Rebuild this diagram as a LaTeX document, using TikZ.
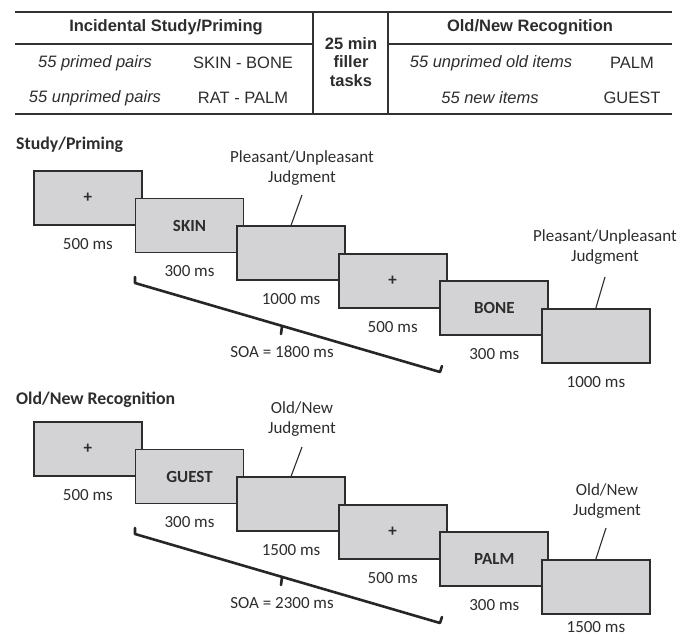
\documentclass[tikz,border=0pt]{standalone}
\usepackage{fontspec}
\setmainfont{Carlito}
\newfontfamily\arialf{Liberation Sans}
\usetikzlibrary{calc}
\definecolor{txt}{RGB}{45,45,45}
\definecolor{bord}{RGB}{45,45,45}
\definecolor{boxfill}{RGB}{211,211,213}
\definecolor{rule}{RGB}{50,50,50}
\begin{document}
\begin{tikzpicture}[x=1pt,y=-1pt,
  tbl/.style={font=\arialf\fontsize{16.5}{19}\selectfont, text=txt, inner sep=0pt},
  tbli/.style={font=\arialf\itshape\fontsize{16.5}{19}\selectfont, text=txt, inner sep=0pt},
  tblh/.style={font=\arialf\bfseries\fontsize{16.5}{19}\selectfont, text=txt, inner sep=0pt},
  thinrule/.style={draw=rule, line width=1.6pt},
  thickrule/.style={draw=rule, line width=2.6pt},
  sechead/.style={font=\bfseries\fontsize{17.8}{21}\selectfont, text=txt, inner sep=0pt, anchor=west},
  stim/.style={draw=bord, fill=boxfill, line width=1.8pt, minimum width=108pt, minimum height=54pt, anchor=north west, inner sep=0pt, font=\bfseries\fontsize{17}{20}\selectfont, text=txt},
  dur/.style={font=\fontsize{17}{20}\selectfont, text=txt, inner sep=0pt},
  judg/.style={align=center, font=\fontsize{17}{20}\selectfont, text=txt, inner sep=0pt},
  pointer/.style={draw=bord, line width=1.1pt},
  soabrace/.style={draw=black!85, line width=2.6pt, line join=round, line cap=round}
]
\useasboundingbox (0,0) rectangle (686,635);

% ---------------- table ----------------
\draw[thinrule] (15,12) -- (672,12);
\draw[thinrule] (15,114) -- (672,114);
\draw[thickrule] (15,44) -- (313,44);
\draw[thickrule] (388,44) -- (672,44);
\draw[thickrule] (313,12) -- (313,114);
\draw[thickrule] (388,12) -- (388,114);

\node[tblh] (h1) at (166,27) {Incidental Study/Priming};
\node[tblh] (h2) at (530,27) {Old/New Recognition};
\node[tblh, align=center] (fill) at (351,62) {25 min\\[-0.5pt]filler\\[-0.5pt]tasks};
\node[tbli] (r1a) at (95,63) {55 primed pairs};
\node[tbl]  (r1b) at (243,63) {SKIN - BONE};
\node[tbli] (r2a) at (95,98) {55 unprimed pairs};
\node[tbl]  (r2b) at (243,98) {RAT - PALM};
\node[tbli] (r1c) at (491,63) {55 unprimed old items};
\node[tbl]  (r1d) at (632,63) {PALM};
\node[tbli] (r2c) at (490,98) {55 new items};
\node[tbl]  (r2d) at (632,98) {GUEST};

% ---------------- Study/Priming ----------------
\node[sechead] (sp) at (16,145) {Study/Priming};

\node[stim] (a1) at (33,170) {+};
\node[stim] (a2) at (134.6,197.6) {SKIN};
\node[stim] (a3) at (236.2,225.2) {};
\node[stim] (a4) at (337.8,252.8) {+};
\node[stim] (a5) at (439.4,280.4) {BONE};
\node[stim] (a6) at (541,308) {};

\node[dur] (ad1) at ($(a1.south)+(0,18)$) {500 ms};
\node[dur] (ad2) at ($(a2.south)+(0,18)$) {300 ms};
\node[dur] (ad3) at ($(a3.south)+(0,18)$) {1000 ms};
\node[dur] (ad4) at ($(a4.south)+(0,18)$) {500 ms};
\node[dur] (ad5) at ($(a5.south)+(0,18)$) {300 ms};
\node[dur] (ad6) at ($(a6.south)+(0,18)$) {1000 ms};

\node[judg] (aj1) at (302,168) {Pleasant/Unpleasant\\Judgment};
\coordinate (aj1p) at (302,195);
\draw[pointer] (aj1p) -- (a3.north);
\node[judg] (aj2) at (605,247.5) {Pleasant/Unpleasant\\Judgment};
\coordinate (aj2p) at (605,277);
\draw[pointer] (aj2p) -- (a6.north);

\coordinate (as1) at (135,277);
\coordinate (as2) at (135,283);
\coordinate (as3) at (440,372);
\coordinate (as4) at (442,366);
\coordinate (asm1) at (282,326);
\coordinate (asm2) at (281,334);
\draw[soabrace] (as1) -- (as2) -- (as3) -- (as4);
\draw[soabrace] (asm1) -- (asm2);
\node[dur] (asoa) at (282,352) {SOA = 1800 ms};

% ---------------- Old/New Recognition ----------------
\node[sechead] (on) at (16,400) {Old/New Recognition};

\node[stim] (b1) at (33,421) {+};
\node[stim] (b2) at (134.6,448.6) {GUEST};
\node[stim] (b3) at (236.2,476.2) {};
\node[stim] (b4) at (337.8,503.8) {+};
\node[stim] (b5) at (439.4,531.4) {PALM};
\node[stim] (b6) at (541,559) {};

\node[dur] (bd1) at ($(b1.south)+(0,18)$) {500 ms};
\node[dur] (bd2) at ($(b2.south)+(0,18)$) {300 ms};
\node[dur] (bd3) at ($(b3.south)+(0,18)$) {1500 ms};
\node[dur] (bd4) at ($(b4.south)+(0,18)$) {500 ms};
\node[dur] (bd5) at ($(b5.south)+(0,18)$) {300 ms};
\node[dur] (bd6) at ($(b6.south)+(0,12)$) {1500 ms};

\node[judg] (bj1) at (302,419.5) {Old/New\\Judgment};
\coordinate (bj1p) at (302,447);
\draw[pointer] (bj1p) -- (b3.north);
\node[judg] (bj2) at (607,501.5) {Old/New\\Judgment};
\coordinate (bj2p) at (606,528);
\draw[pointer] (bj2p) -- (b6.north);

\coordinate (bs1) at (135,528);
\coordinate (bs2) at (135,534);
\coordinate (bs3) at (440,623);
\coordinate (bs4) at (442,617);
\coordinate (bsm1) at (282,577);
\coordinate (bsm2) at (281,585);
\draw[soabrace] (bs1) -- (bs2) -- (bs3) -- (bs4);
\draw[soabrace] (bsm1) -- (bsm2);
\node[dur] (bsoa) at (282,603) {SOA = 2300 ms};
\end{tikzpicture}
\end{document}
